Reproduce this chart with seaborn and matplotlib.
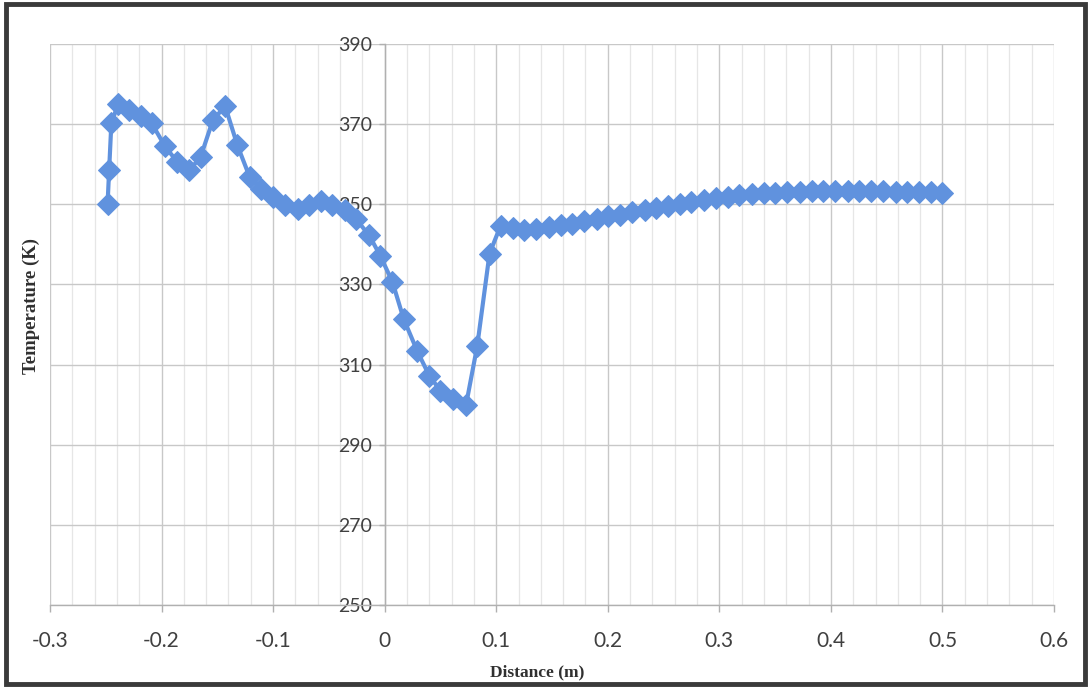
import matplotlib
matplotlib.use("Agg")
import matplotlib.pyplot as plt
from matplotlib.patches import Rectangle
from matplotlib.ticker import MultipleLocator
import seaborn as sns
import pandas as pd

# ---- data ----
distance = [
    -0.2484, -0.247, -0.245, -0.239, -0.229, -0.218, -0.209, -0.197, -0.186, -0.175,
    -0.165, -0.154, -0.143, -0.132, -0.121, -0.111, -0.100, -0.089, -0.078, -0.068,
    -0.057, -0.047, -0.036, -0.026, -0.014, -0.004, 0.007, 0.017, 0.029, 0.040,
    0.050, 0.061, 0.073, 0.083, 0.094,
    0.104, 0.115, 0.125, 0.136, 0.147, 0.158, 0.168, 0.179, 0.190, 0.200,
    0.211, 0.222, 0.233, 0.243, 0.254, 0.265, 0.275, 0.286, 0.297, 0.308,
    0.318, 0.329, 0.340, 0.350, 0.361, 0.372, 0.383, 0.393, 0.404, 0.415,
    0.425, 0.436, 0.447, 0.458, 0.468, 0.479, 0.490, 0.500,
]
temperature = [
    350.0, 358.5, 370.2, 375.0, 373.5, 372.0, 370.3, 364.5, 360.6, 358.5,
    361.8, 371.0, 374.5, 364.7, 356.8, 353.9, 351.8, 349.8, 348.8, 349.8,
    350.8, 349.8, 348.5, 346.4, 342.3, 337.2, 330.6, 321.4, 313.5, 307.2,
    303.5, 301.4, 300.0, 314.7, 337.7,
    344.7, 344.0, 343.7, 343.9, 344.3, 344.8, 345.2, 345.8, 346.4, 347.0,
    347.4, 348.0, 348.6, 349.1, 349.5, 350.1, 350.6, 351.1, 351.6, 351.9,
    352.2, 352.5, 352.7, 352.9, 353.0, 353.1, 353.2, 353.2, 353.2, 353.2,
    353.2, 353.2, 353.2, 353.1, 353.1, 353.0, 353.0, 352.9,
]
x_ticks = [-0.3, -0.2, -0.1, 0, 0.1, 0.2, 0.3, 0.4, 0.5, 0.6]
x_tick_labels = ["-0.3", "-0.2", "-0.1", "0", "0.1", "0.2", "0.3", "0.4", "0.5", "0.6"]
y_ticks = [250, 270, 290, 310, 330, 350, 370, 390]
x_title = "Distance (m)"
y_title = "Temperature (K)"

df = pd.DataFrame({"Distance": distance, "Temperature": temperature})

sns.set_theme(style="white")
plt.rcParams["font.family"] = ["Lato", "DejaVu Sans"]

W, H = 1091, 688
fig = plt.figure(figsize=(W / 100, H / 100), dpi=100)
fig.patch.set_facecolor("white")
ax = fig.add_axes([50 / W, 1 - 605 / H, (1054 - 50) / W, (605 - 44) / H])
ax.set_facecolor("white")

line_color = "#6092DE"
sns.lineplot(data=df, x="Distance", y="Temperature", ax=ax, sort=False,
             color=line_color, linewidth=3.0, marker="D", markersize=11,
             markeredgecolor=line_color, markerfacecolor=line_color, zorder=5)

ax.set_xlim(-0.3, 0.6)
ax.set_ylim(250, 390)
ax.set_xticks(x_ticks)
ax.set_xticklabels(x_tick_labels)
ax.set_yticks(y_ticks)
ax.xaxis.set_minor_locator(MultipleLocator(0.02))

ax.grid(which="major", axis="both", color="#c8c8c8", linewidth=1.0, zorder=0)
ax.grid(which="minor", axis="x", color="#e6e6e6", linewidth=0.9, zorder=0)
ax.set_axisbelow(True)

for s in ["top", "right"]:
    ax.spines[s].set_visible(False)
ax.spines["left"].set_position(("data", 0))
ax.spines["left"].set_color("#b0b0b0")
ax.spines["left"].set_linewidth(1.0)
ax.spines["bottom"].set_color("#b0b0b0")
ax.spines["bottom"].set_linewidth(1.0)

ax.tick_params(axis="x", which="major", bottom=True, length=5, width=1,
               color="#b0b0b0", pad=14, labelsize=15, labelcolor="#404040")
ax.tick_params(axis="x", which="minor", bottom=False)
ax.tick_params(axis="y", left=True, length=4, width=1, color="#b0b0b0",
               pad=5, labelsize=14, labelcolor="#404040")

ax.set_xlabel("")
ax.set_ylabel("")
fig.text(537 / W, 1 - 672 / H, x_title, ha="center", va="center",
         family=["Liberation Serif", "DejaVu Serif"], fontweight="bold",
         fontsize=12.5, color="#303030")
fig.text(31 / W, 1 - 306 / H, y_title, ha="center", va="center", rotation=90,
         family=["Liberation Serif", "DejaVu Serif"], fontweight="bold",
         fontsize=13.5, color="#303030")

# outer chart frame
fig.patches.append(Rectangle((6 / W, 4 / H), (W - 12) / W, (H - 8) / H,
                             transform=fig.transFigure, fill=False,
                             edgecolor="#3a3a3a", linewidth=3.5))

fig.savefig("out.png", dpi=100, facecolor="white")
